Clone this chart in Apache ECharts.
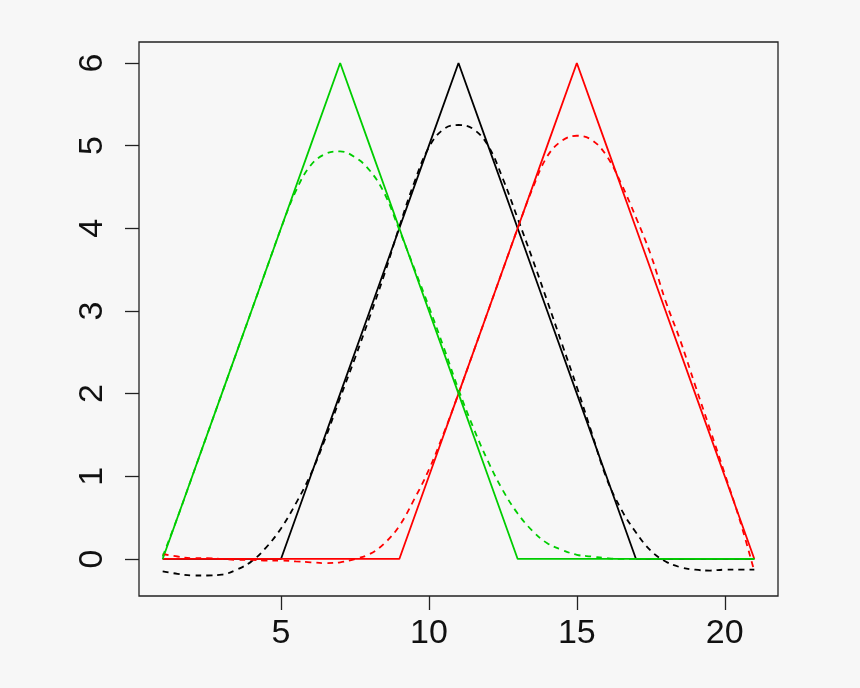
<!DOCTYPE html>
<html>
<head>
<meta charset="utf-8">
<script src="https://cdn.jsdelivr.net/npm/echarts@6/dist/echarts.min.js"></script>
<style>
html,body{margin:0;padding:0;background:#f7f7f7;}
#chart{width:860px;height:688px;}
</style>
</head>
<body>
<div id="chart"></div>
<script>
// Solid (triangle) series, sampled at x = 1..21
var xInt = [1,2,3,4,5,6,7,8,9,10,11,12,13,14,15,16,17,18,19,20,21];
var blackSolid = [0,0,0,0,0,1,2,3,4,5,6,5,4,3,2,1,0,0,0,0,0];
var redSolid   = [0,0,0,0,0,0,0,0,0,1,2,3,4,5,6,5,4,3,2,1,0];
var greenSolid = [0,1,2,3,4,5,6,5,4,3,2,1,0,0,0,0,0,0,0,0,0];

// Smoothed (dashed) series, read at x = 1..21 step 0.5
var xFine = [1,1.5,2,2.5,3,3.5,4,4.5,5,5.5,6,6.5,7,7.5,8,8.5,9,9.5,10,10.5,11,
             11.5,12,12.5,13,13.5,14,14.5,15,15.5,16,16.5,17,17.5,18,18.5,19,19.5,20,20.5,21];
var blackDash = [-0.15,-0.18,-0.2,-0.2,-0.19,-0.13,-0.03,0.14,0.37,0.67,1.02,1.46,1.95,2.43,2.93,3.45,4.02,4.55,4.98,5.2,5.25,
                 5.2,5.0,4.6,4.12,3.63,3.12,2.6,2.08,1.53,0.98,0.6,0.32,0.1,-0.03,-0.1,-0.13,-0.14,-0.13,-0.13,-0.13];
var redDash = [0.06,0.03,0.01,0.01,0.0,-0.01,-0.01,-0.02,-0.02,-0.03,-0.04,-0.05,-0.04,0.0,0.06,0.19,0.4,0.72,1.08,1.52,2.0,
               2.5,3.0,3.5,4.0,4.48,4.87,5.06,5.12,5.07,4.88,4.54,4.13,3.68,3.12,2.64,2.1,1.57,1.03,0.48,-0.15];
var greenDash = [0.03,0.5,1.0,1.5,2.0,2.5,3.0,3.5,4.0,4.45,4.76,4.9,4.93,4.86,4.7,4.42,3.98,3.52,3.05,2.56,2.05,
                 1.59,1.18,0.83,0.55,0.34,0.19,0.11,0.05,0.03,0.01,0.0,0,0,0,0,0,0,0,0,0];

var xTicks = [5,10,15,20];
var yTicks = [0,1,2,3,4,5,6];

function pairs(xs, ys){ return xs.map(function(x,i){ return [x, ys[i]]; }); }

var FONT = '"Liberation Sans", Arial, Helvetica, sans-serif';

function solid(name, ys, color){
  return {name:name, type:'line', data:pairs(xInt, ys), symbol:'none', silent:true,
          lineStyle:{color:color, width:1.8, type:'solid'}, animation:false};
}
function dashed(name, ys, color){
  return {name:name, type:'line', data:pairs(xFine, ys), symbol:'none', silent:true, smooth:0.4,
          lineStyle:{color:color, width:1.8, type:[6,5]}, animation:false};
}

var chart = echarts.init(document.getElementById('chart'), null, {renderer:'canvas'});
chart.setOption({
  backgroundColor:'#f7f7f7',
  animation:false,
  grid:{left:139, right:82, top:42, bottom:92, show:true, borderColor:'#222', borderWidth:1.3, backgroundColor:'transparent'},
  xAxis:{type:'value', min:0.2, max:21.8,
    axisLine:{show:false, onZero:false},
    splitLine:{show:false},
    axisTick:{show:true, inside:false, length:14, customValues:xTicks, lineStyle:{color:'#222', width:1.3}},
    axisLabel:{customValues:xTicks, fontSize:34, color:'#111', fontFamily:FONT, margin:21}
  },
  yAxis:{type:'value', min:-0.448, max:6.254,
    axisLine:{show:false, onZero:false},
    splitLine:{show:false},
    axisTick:{show:true, inside:false, length:14, customValues:yTicks, lineStyle:{color:'#222', width:1.3}},
    axisLabel:{customValues:yTicks, fontSize:34, color:'#111', fontFamily:FONT, margin:29, rotate:90}
  },
  series:[
    solid('black', blackSolid, '#000000'),
    solid('red', redSolid, '#ff0000'),
    solid('green', greenSolid, '#00cd00'),
    dashed('black smooth', blackDash, '#000000'),
    dashed('red smooth', redDash, '#ff0000'),
    dashed('green smooth', greenDash, '#00cd00')
  ]
});
</script>
</body>
</html>
